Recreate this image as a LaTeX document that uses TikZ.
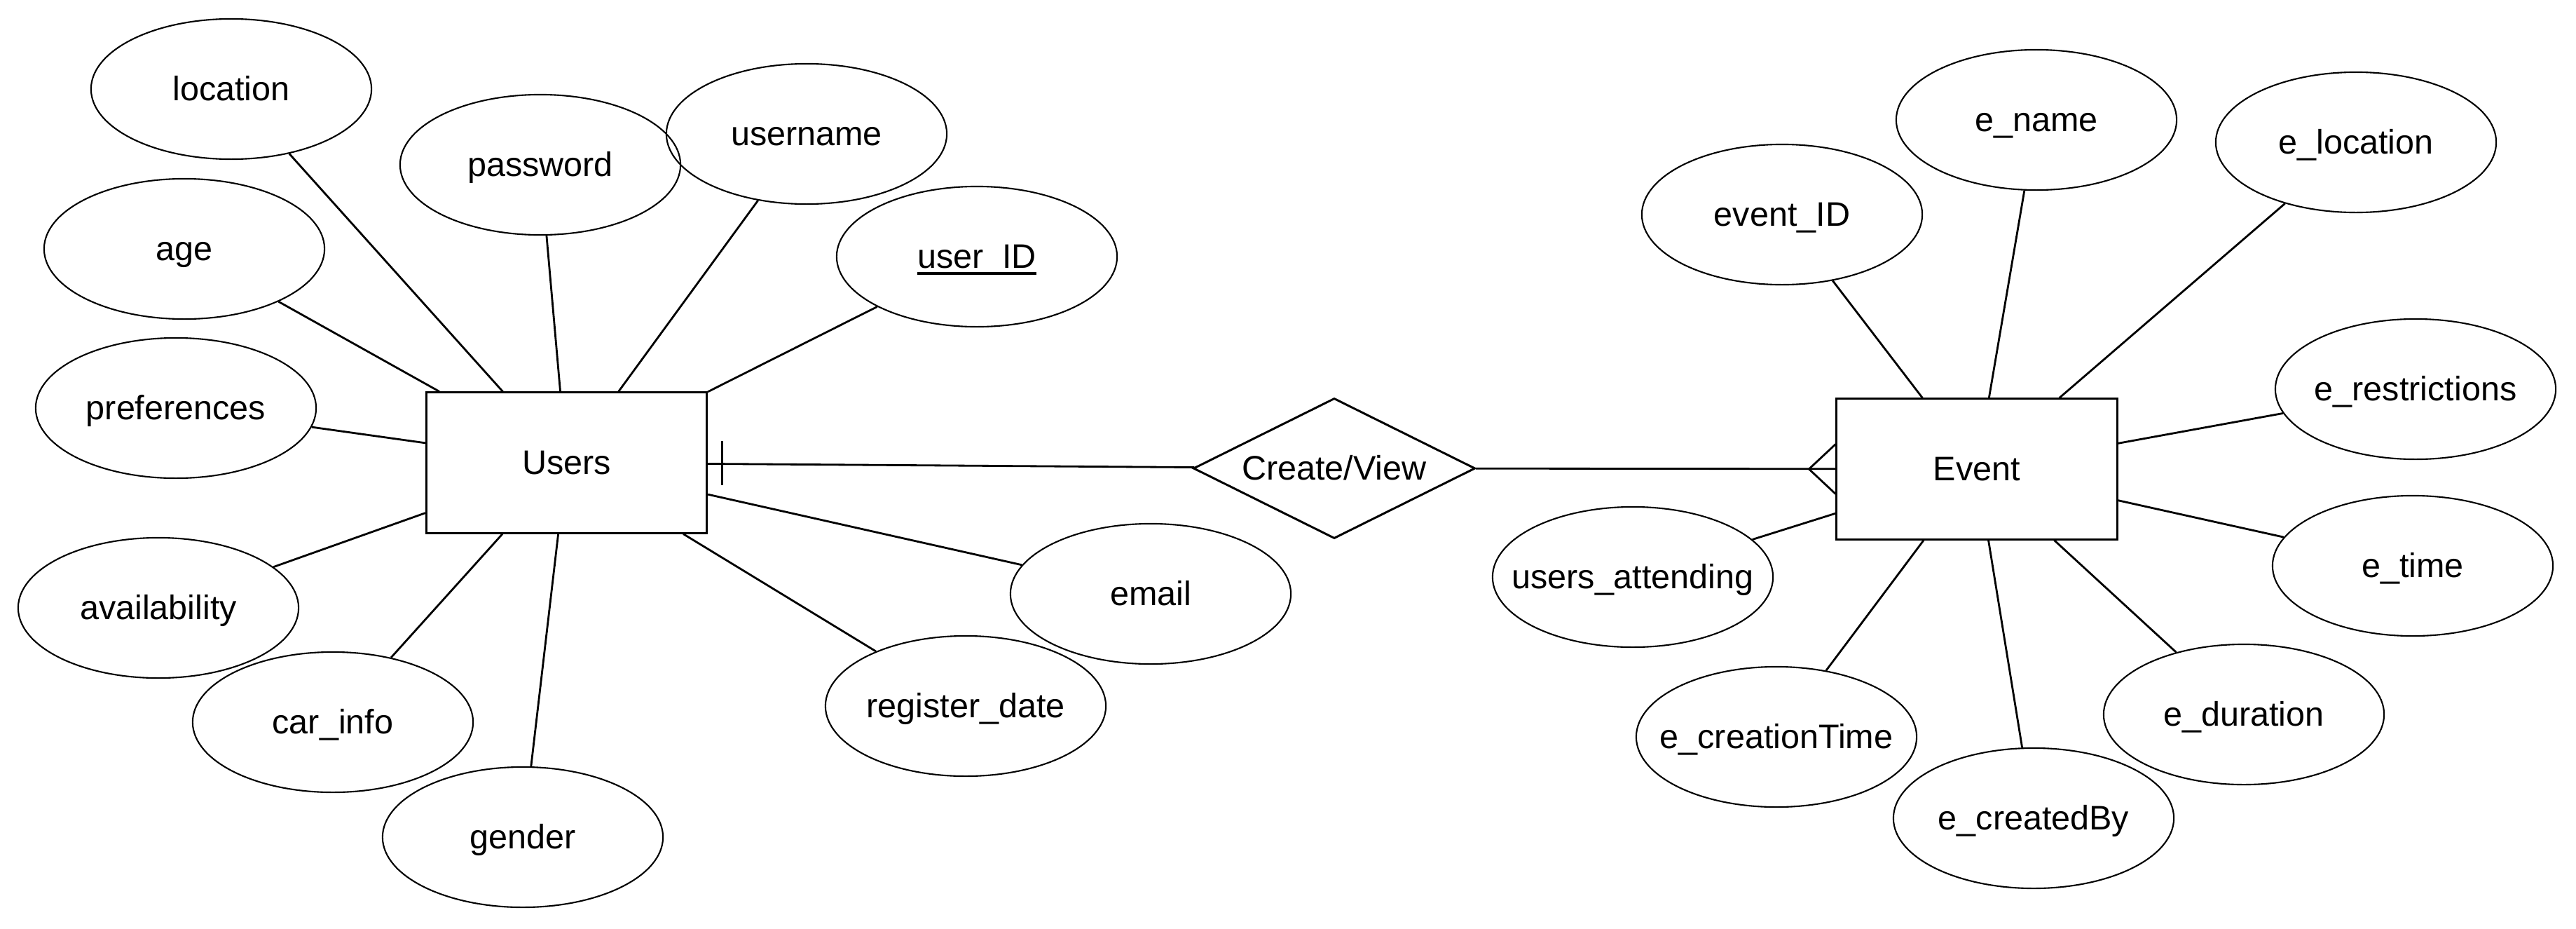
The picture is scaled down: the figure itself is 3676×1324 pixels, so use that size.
\documentclass[tikz,border=0pt]{standalone}
\usepackage{fontspec}
\setmainfont{Liberation Sans}
\usetikzlibrary{shapes.geometric,calc}
\newcommand\zb[1]{\makebox[0pt][c]{\raisebox{-4.7pt}[0pt][0pt]{#1}}}
\newcommand\keyul[1]{\setbox0\hbox{#1}\rlap{\rule[-2.55pt]{\wd0}{1.1pt}}#1}
\tikzset{
  attr/.style={ellipse, draw, line width=0.6pt, minimum width=4cm, minimum height=2cm, inner sep=0pt, font=\fontsize{13.8pt}{16pt}\selectfont},
  ent/.style={rectangle, draw, line width=0.85pt, minimum width=4cm, minimum height=2cm, inner sep=0pt, font=\fontsize{13.8pt}{16pt}\selectfont},
  rel/.style={diamond, draw, line width=0.85pt, minimum width=4.02cm, minimum height=2cm, inner sep=0pt, aspect=2, font=\fontsize{13.8pt}{16pt}\selectfont},
  conn/.style={line width=0.8pt}
}
\begin{document}
\begin{tikzpicture}[x=0.01cm,y=-0.01cm]
\useasboundingbox (0,0) rectangle (3676,1324);
% entities and relation
\node[ent] (users) at (808.5,660) {\zb{Users}};
\node[ent] (event) at (2821,669) {\zb{Event}};
\node[rel] (cv) at (1904,668) {\zb{Create/View}};
% user attributes
\node[attr] (location) at (330,127) {\zb{location}};
\node[attr] (password) at (771,235) {\zb{password}};
\node[attr] (username) at (1151,191) {\zb{username}};
\node[attr] (userid) at (1394,366) {\zb{\keyul{user\_ID}}};
\node[attr] (age) at (263,355) {\zb{age}};
\node[attr] (preferences) at (251,582) {\zb{preferences}};
\node[attr] (availability) at (226,867) {\zb{availability}};
\node[attr] (carinfo) at (475,1030) {\zb{car\_info}};
\node[attr] (gender) at (746,1194) {\zb{gender}};
\node[attr] (email) at (1642,847) {\zb{email}};
\node[attr] (regdate) at (1378,1007) {\zb{register\_date}};
% event attributes
\node[attr] (eventid) at (2543,306) {\zb{event\_ID}};
\node[attr] (ename) at (2906,171) {\zb{e\_name}};
\node[attr] (elocation) at (3362,203) {\zb{e\_location}};
\node[attr] (erestr) at (3447,555) {\zb{e\_restrictions}};
\node[attr] (etime) at (3443,807) {\zb{e\_time}};
\node[attr] (eduration) at (3202,1019) {\zb{e\_duration}};
\node[attr] (ecreatedby) at (2902,1167) {\zb{e\_createdBy}};
\node[attr] (ecreationtime) at (2535,1051) {\zb{e\_creationTime}};
\node[attr] (usersatt) at (2330,823) {\zb{users\_attending}};
% user connectors
\foreach \a in {location,password,username,userid,age,preferences,availability,carinfo,gender,email,regdate}
  \draw[conn] (users) -- (\a);
% event connectors
\foreach \a in {eventid,ename,elocation,erestr,etime,eduration,ecreatedby,ecreationtime,usersatt}
  \draw[conn] (event) -- (\a);
% relationship connectors
\draw[conn] (users) -- (cv);
\draw[conn] (cv) -- (event);
% one mark at Users
\coordinate (tk) at ($(users.east)+(20,0.6)$);
\draw[conn] ($(tk)+(0,-31.5)$) -- ($(tk)+(0,31.5)$);
% crow's foot at Event
\coordinate (cf) at ($(event.west)+(-38,0)$);
\draw[conn] ($(event.west)+(0,-35.5)$) -- (cf) -- ($(event.west)+(0,35.5)$);
\end{tikzpicture}
\end{document}
